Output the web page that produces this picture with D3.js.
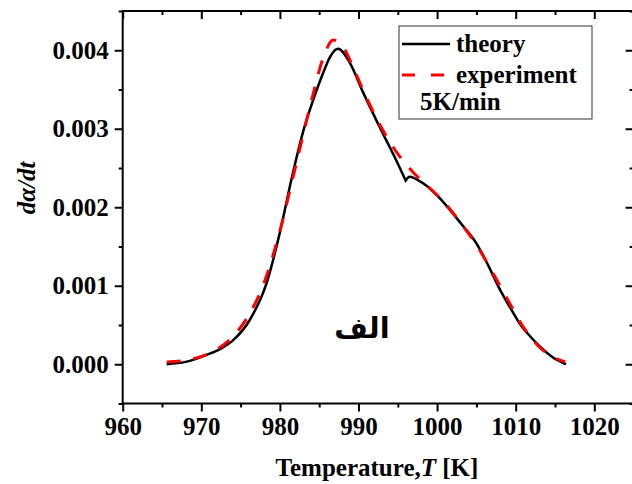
<!DOCTYPE html>
<html>
<head>
<meta charset="utf-8">
<script src="https://cdn.jsdelivr.net/npm/d3@7"></script>
<style>
    body { margin: 0; background: #fff; }
    text { font-family: "Liberation Serif", "Times New Roman", serif; font-weight: bold; }
</style>
</head>
<body>
<div id="chart"></div>
<script>
// theory curve (black), kink at 996 K
const theoryT = [965.6, 968, 970.7, 972.5, 974.1, 976.2, 978.3, 980, 981.5, 983, 984.25, 985.5, 986.4, 987.4,
    988.9, 990.6, 992.7, 994.6, 996.0, 996.5, 997.5, 998.7, 1000, 1001.6, 1003.3, 1005, 1006.5, 1008, 1009.3,
    1010.5, 1011.8, 1013.1, 1014.7, 1016.4];
const theoryV = [0, 0.00003, 0.00012, 0.00020, 0.00031, 0.00057, 0.00103, 0.00168, 0.00237, 0.00298, 0.00337, 0.00371, 0.00392, 0.00402,
    0.00384, 0.00346, 0.00302, 0.00264, 0.00234, 0.00239, 0.00235, 0.00227, 0.00215, 0.00197, 0.00176, 0.00154, 0.00126, 0.00095, 0.00072,
    0.00052, 0.00036, 0.000225, 0.00009, 0];
const kinkT = 996.0;

// experiment curve (red dashed)
const expT = [965.6, 968, 970, 972, 974, 976, 978, 980, 982, 984, 985.5, 986.8, 988, 989.5, 991, 993, 995, 997,
    999, 1001, 1003, 1005, 1007, 1009, 1011, 1013, 1015, 1016.3];
const expV = [0.00003, 0.00005, 0.00010, 0.00019, 0.00035, 0.00062, 0.00104, 0.00170, 0.00252, 0.00335, 0.00390, 0.00413, 0.00405, 0.00374, 0.00340, 0.00300, 0.00268, 0.00244,
    0.00225, 0.00205, 0.00180, 0.00152, 0.00118, 0.00082, 0.00047, 0.00022, 0.00008, 0.00003];

const xTicks = [960, 970, 980, 990, 1000, 1010, 1020];
const xMinor = [965, 975, 985, 995, 1005, 1015, 1025];
const yTicks = [0, 0.001, 0.002, 0.003, 0.004];
const yMinor = [-0.0005, 0.0005, 0.0015, 0.0025, 0.0035, 0.0045];

const width = 632, height = 484;
const plotLeft = 122.7, plotRight = 633.6, plotTop = 11, plotBottom = 403.5;

const svg = d3.select('#chart').append('svg')
    .attr('width', width)
    .attr('height', height);

const x = d3.scaleLinear().domain([960, 1025]).range([plotLeft, plotRight]);
const y = d3.scaleLinear().domain([-0.0005, 0.0045]).range([plotBottom, plotTop]);

// axes: bottom/left outward, top/right inward
function styleAxis(g) {
    g.selectAll('.domain').remove();
    g.selectAll('line').attr('stroke', '#000').attr('stroke-width', 2);
    g.selectAll('text').attr('font-size', '25px').attr('fill', '#000');
}

svg.append('g').attr('transform', `translate(0,${plotBottom})`)
    .call(d3.axisBottom(x).tickValues(xTicks).tickSize(8).tickPadding(6).tickFormat(d3.format('d')))
    .call(styleAxis);
svg.append('g').attr('transform', `translate(0,${plotBottom})`)
    .call(d3.axisBottom(x).tickValues(xMinor).tickSize(4).tickFormat(''))
    .call(styleAxis);
svg.append('g').attr('transform', `translate(0,${plotTop})`)
    .call(d3.axisBottom(x).tickValues(xTicks).tickSize(8).tickFormat(''))
    .call(styleAxis);
svg.append('g').attr('transform', `translate(0,${plotTop})`)
    .call(d3.axisBottom(x).tickValues(xMinor).tickSize(4).tickFormat(''))
    .call(styleAxis);

svg.append('g').attr('transform', `translate(${plotLeft},0)`)
    .call(d3.axisLeft(y).tickValues(yTicks).tickSize(8).tickPadding(6).tickFormat(d3.format('.3f')))
    .call(styleAxis);
svg.append('g').attr('transform', `translate(${plotLeft},0)`)
    .call(d3.axisLeft(y).tickValues(yMinor).tickSize(4).tickFormat(''))
    .call(styleAxis);
svg.append('g').attr('transform', `translate(${plotRight},0)`)
    .call(d3.axisRight(y).tickValues(yTicks).tickSize(-8).tickFormat(''))
    .call(styleAxis);
svg.append('g').attr('transform', `translate(${plotRight},0)`)
    .call(d3.axisRight(y).tickValues(yMinor).tickSize(-4).tickFormat(''))
    .call(styleAxis);

// frame
svg.append('rect')
    .attr('x', plotLeft).attr('y', plotTop)
    .attr('width', plotRight - plotLeft).attr('height', plotBottom - plotTop)
    .attr('fill', 'none')
    .attr('stroke', '#000')
    .attr('stroke-width', 2);

// curves
const line = d3.line()
    .x(d => x(d[0]))
    .y(d => y(d[1]))
    .curve(d3.curveMonotoneX);

// theory drawn in two smooth pieces joined at the sharp kink
const theoryPts = theoryT.map((t, i) => [t, theoryV[i]]);
const beforeKink = theoryPts.filter(d => d[0] <= kinkT);
const afterKink = theoryPts.filter(d => d[0] >= kinkT);
svg.append('path')
    .attr('d', line(beforeKink) + line(afterKink).replace(/^M/, 'L'))
    .attr('fill', 'none')
    .attr('stroke', '#000')
    .attr('stroke-width', 2.5)
    .attr('stroke-linejoin', 'miter');

svg.append('path')
    .datum(expT.map((t, i) => [t, expV[i]]))
    .attr('d', line)
    .attr('fill', 'none')
    .attr('stroke', '#ff0000')
    .attr('stroke-width', 3)
    .attr('stroke-dasharray', '14,13');

// axis titles
const xTitle = svg.append('text')
    .attr('x', 377)
    .attr('y', 476)
    .attr('text-anchor', 'middle')
    .attr('font-size', '25px');
xTitle.append('tspan').text('Temperature,');
xTitle.append('tspan').attr('font-style', 'italic').text('T');
xTitle.append('tspan').text(' [K]');

svg.append('text')
    .attr('transform', 'translate(35,188) rotate(-90)')
    .attr('text-anchor', 'middle')
    .attr('font-size', '25px')
    .attr('font-style', 'italic')
    .text('dα/dt');

// legend
svg.append('rect')
    .attr('x', 399).attr('y', 26)
    .attr('width', 193).attr('height', 93)
    .attr('fill', '#fff')
    .attr('stroke', '#333')
    .attr('stroke-width', 1);

svg.append('line')
    .attr('x1', 402).attr('x2', 450)
    .attr('y1', 44).attr('y2', 44)
    .attr('stroke', '#000').attr('stroke-width', 2.5);
svg.append('text').attr('x', 456).attr('y', 52).attr('font-size', '25px').text('theory');

svg.append('line')
    .attr('x1', 402).attr('x2', 450)
    .attr('y1', 75).attr('y2', 75)
    .attr('stroke', '#ff0000').attr('stroke-width', 3)
    .attr('stroke-dasharray', '13,16');
svg.append('text').attr('x', 456).attr('y', 83).attr('font-size', '25px').text('experiment');

svg.append('text').attr('x', 420).attr('y', 110).attr('font-size', '25px').text('5K/min');

// panel label
svg.append('text')
    .attr('x', 362)
    .attr('y', 338)
    .attr('text-anchor', 'middle')
    .attr('font-size', '29px')
    .style('font-family', '"DejaVu Sans", sans-serif')
    .attr('direction', 'rtl')
    .text('الف');
</script>
</body>
</html>
